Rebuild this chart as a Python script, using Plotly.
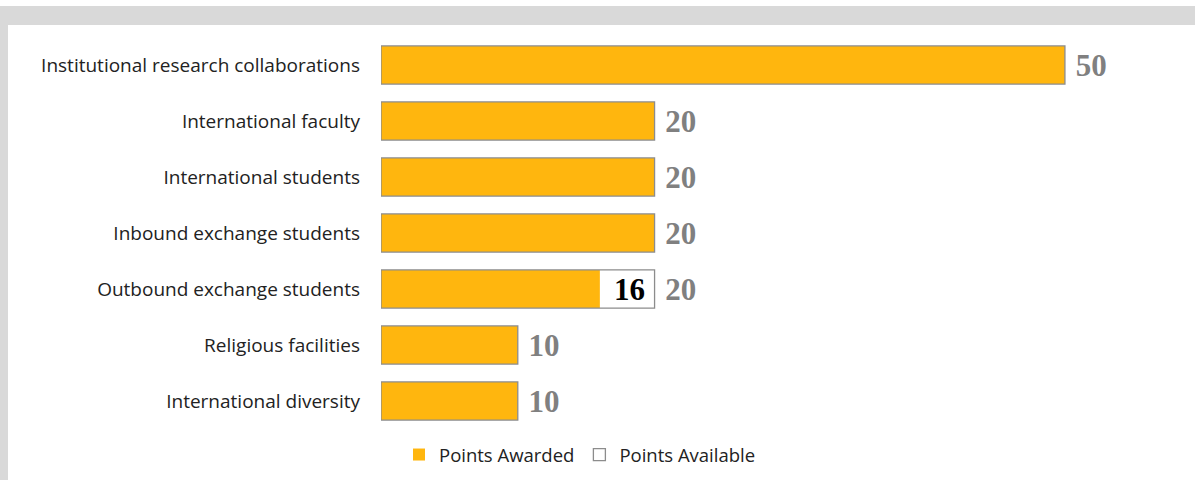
import plotly.graph_objects as go

categories = [
    "Institutional research collaborations",
    "International faculty",
    "International students",
    "Inbound exchange students",
    "Outbound exchange students",
    "Religious facilities",
    "International diversity",
]
points_available = [50, 20, 20, 20, 20, 10, 10]
points_awarded = [50, 20, 20, 20, 16, 10, 10]

W, H = 1195, 480
L, R, T, B = 381, 48, 37, 51
PW, PH = W - L - R, H - T - B

def px_x(x):
    return (x - L) / PW

def px_y(y):
    return (H - B - y) / PH

ORANGE = "#FFB60E"
OUTLINE = "#8c8c8c"
LABEL_GRAY = "#808080"
SANS = "Open Sans"
SERIF = "Liberation Serif"

fig = go.Figure()
fig.add_trace(go.Bar(
    y=categories, x=points_awarded, orientation="h", name="Points Awarded",
    marker=dict(color=ORANGE, line=dict(width=0)), width=0.68,
    textposition="none", hoverinfo="x+y",
))
fig.add_trace(go.Bar(
    y=categories, x=points_available, orientation="h", name="Points Available",
    marker=dict(color="rgba(255,255,255,0)", line=dict(color=OUTLINE, width=1.3)), width=0.68,
    text=[str(v) for v in points_available], textposition="outside",
    texttemplate=" %{text}",
    textfont=dict(family=SERIF, size=31, color=LABEL_GRAY, weight="bold"),
    constraintext="none", cliponaxis=False,
))

annotations = []
for c, a, v in zip(categories, points_awarded, points_available):
    if a < v:
        annotations.append(dict(
            x=v, y=c, xref="x", yref="y", text=str(a), showarrow=False,
            xanchor="right", xshift=-8,
            font=dict(family=SERIF, size=31, color="#000000", weight="bold"),
        ))

shapes = [
    dict(type="rect", xref="paper", yref="paper", x0=px_x(0), x1=px_x(W),
         y0=px_y(25), y1=px_y(6), fillcolor="#d9d9d9", line=dict(width=0), layer="below"),
    dict(type="rect", xref="paper", yref="paper", x0=px_x(0), x1=px_x(8),
         y0=px_y(H), y1=px_y(6), fillcolor="#d9d9d9", line=dict(width=0), layer="below"),
]

fig.update_layout(
    width=W, height=H,
    margin=dict(l=L, r=R, t=T, b=B, autoexpand=False),
    paper_bgcolor="white", plot_bgcolor="white",
    barmode="overlay",
    showlegend=True,
    legend=dict(orientation="h", x=px_x(580), xanchor="center", y=px_y(455), yanchor="middle",
                font=dict(family=SANS, size=18.5, color="#222222"),
                itemwidth=30, traceorder="normal", bgcolor="rgba(0,0,0,0)"),
    xaxis=dict(range=[0, 56], visible=False, fixedrange=True),
    yaxis=dict(categoryorder="array", categoryarray=categories, autorange="reversed",
               showgrid=False, zeroline=False, showline=False, ticks="",
               ticklabelstandoff=20,
               tickfont=dict(family=SANS, size=19, color="#222222")),
    annotations=annotations,
    shapes=shapes,
)

fig.write_html("out.html", config={"displayModeBar": False},
               post_script="document.body.style.margin='0';")
